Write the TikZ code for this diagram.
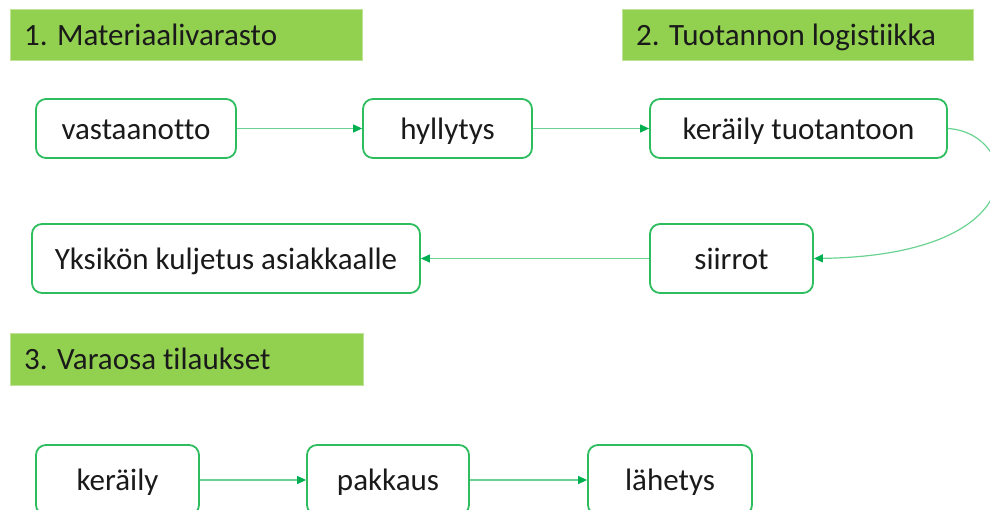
\documentclass[tikz,border=0pt]{standalone}
\usepackage{fontspec}
\setmainfont{Carlito}[Ligatures=NoCommon]
\usetikzlibrary{arrows.meta}
\definecolor{hdr}{HTML}{92D050}
\definecolor{bx}{HTML}{2EBD5E}
\definecolor{ln}{HTML}{6AD391}
\definecolor{tip}{HTML}{00B050}
\definecolor{txt}{HTML}{1A1A1A}
\tikzset{
  header/.style={fill=hdr, draw=hdr!60!white, line width=0.6pt, anchor=north west, inner sep=0pt},
  htext/.style={anchor=base west, text=txt, font=\fontsize{31}{36}\selectfont, inner sep=0pt},
  stepbox/.style={draw=bx, line width=1.8pt, rounded corners=10pt, fill=white, text=txt,
    font=\fontsize{31}{36}\selectfont, inner sep=0pt, text height=22pt, text depth=1pt},
  flow/.style={draw=ln, line width=1.2pt, -{Triangle[length=9pt,width=8pt,fill=tip,color=tip]}}
}
\begin{document}
\begin{tikzpicture}[x=1pt,y=-1pt]
\useasboundingbox (0,0) rectangle (990,509);
\clip (0,0) rectangle (990,509);
\fill[white] (0,0) rectangle (990,509);
% headers
\node[header, minimum width=352pt, minimum height=51pt] (h1) at (10,9) {};
\node[htext] (h1t) at (24,45) {1. Materiaalivarasto};
\node[header, minimum width=351pt, minimum height=51pt] (h2) at (622,9) {};
\node[htext] (h2t) at (636,45) {2. Tuotannon logistiikka};
\node[header, minimum width=353pt, minimum height=52pt] (h3) at (10,333) {};
\node[htext] (h3t) at (24,369) {3. Varaosa tilaukset};
% row 1
\node[stepbox, minimum width=200pt, minimum height=59pt] (a) at (136,128.5) {vastaanotto};
\node[stepbox, minimum width=169pt, minimum height=59pt] (b) at (447.5,128.5) {hyllytys};
\node[stepbox, minimum width=297pt, minimum height=59pt] (c) at (798.5,128.5) {keräily tuotantoon};
% row 2
\node[stepbox, minimum width=163pt, minimum height=69pt] (d) at (731.5,258.5) {siirrot};
\node[stepbox, minimum width=388pt, minimum height=69pt] (e) at (226,258.5) {Yksikön kuljetus asiakkaalle};
% row 3
\node[stepbox, minimum width=163pt, minimum height=70pt] (f) at (117.5,480) {keräily};
\node[stepbox, minimum width=162pt, minimum height=70pt] (g) at (388,480) {pakkaus};
\node[stepbox, minimum width=164pt, minimum height=70pt] (k) at (670,480) {lähetys};
% connectors
\draw[flow] (a) -- (b);
\draw[flow] (b) -- (c);
\draw[flow] (c.east) .. controls (1020,133) and (1040,255) .. (d.east);
\draw[flow] (d) -- (e);
\draw[flow] (f) -- (g);
\draw[flow] (g) -- (k);
\end{tikzpicture}
\end{document}
